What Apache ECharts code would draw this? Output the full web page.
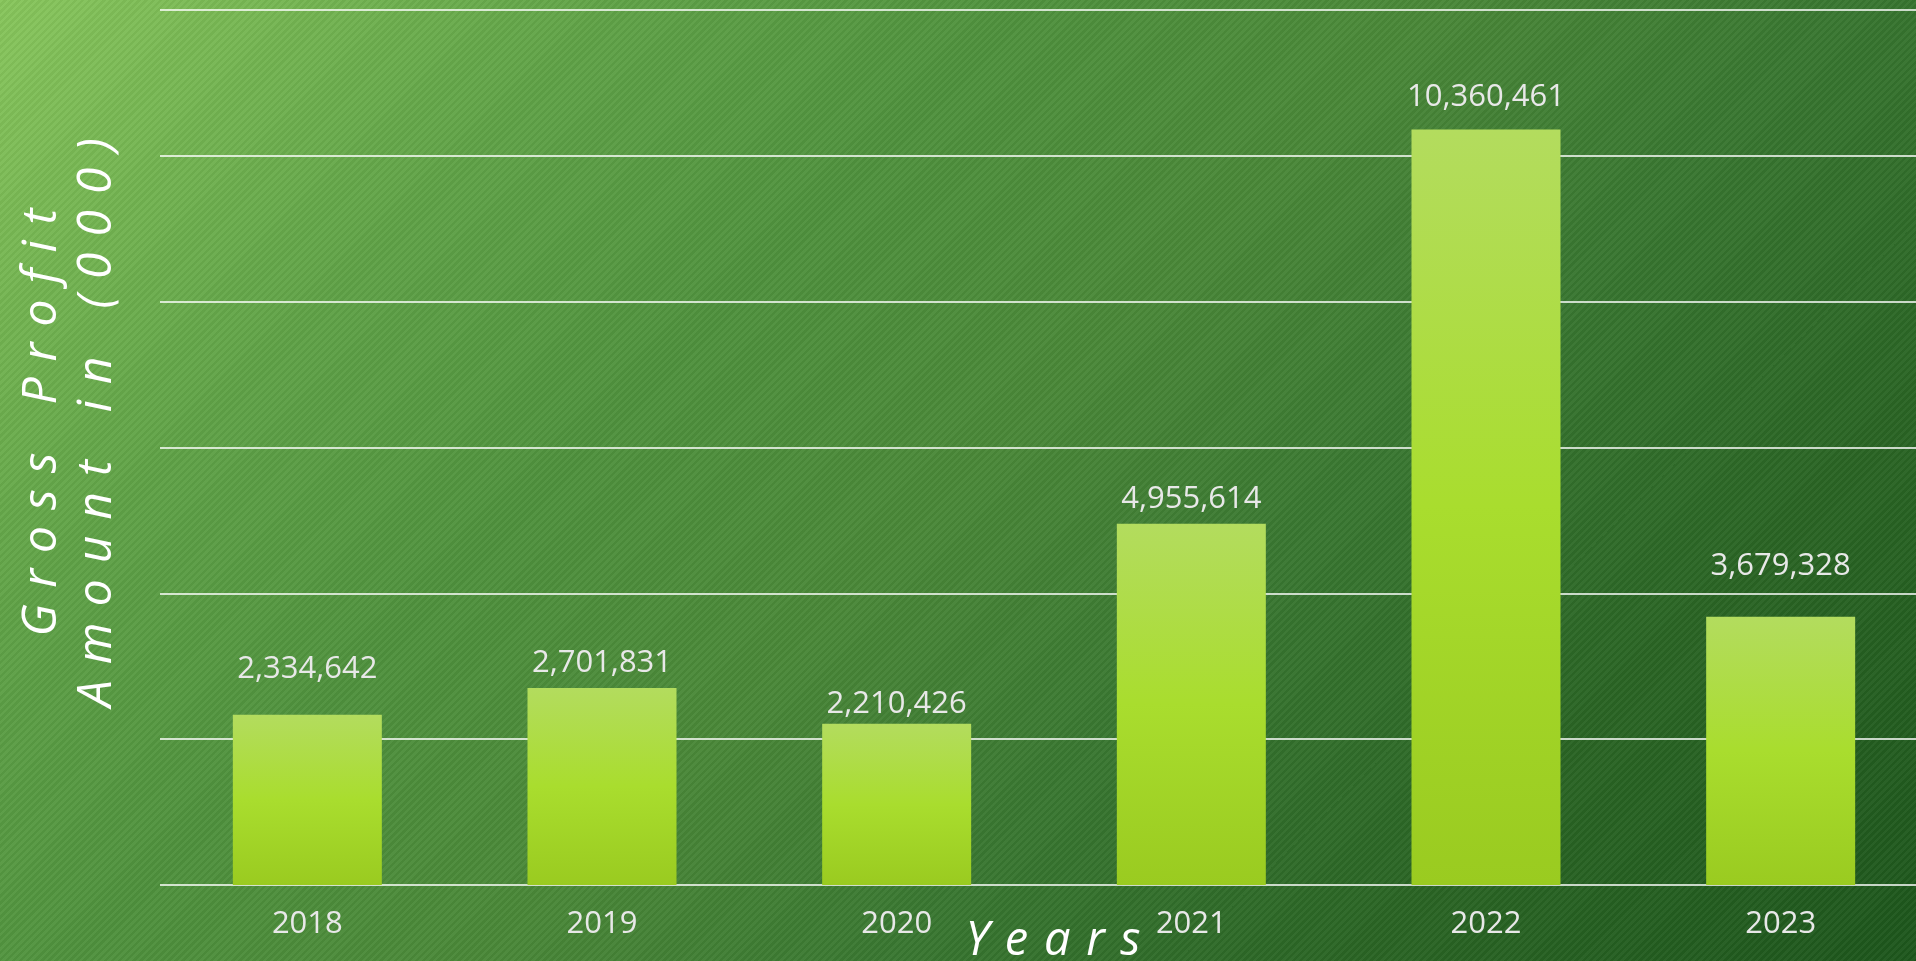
<!DOCTYPE html>
<html>
<head>
<meta charset="utf-8">
<script src="https://cdn.jsdelivr.net/npm/echarts@6/dist/echarts.min.js"></script>
<style>
html, body { margin: 0; padding: 0; width: 1916px; height: 961px; overflow: hidden; }
#chart {
  position: absolute; left: 0; top: 0; width: 1916px; height: 961px;
  background:
    repeating-linear-gradient(135deg, rgba(255,255,255,0.035) 0px, rgba(255,255,255,0.035) 2.5px, rgba(0,0,0,0.035) 2.5px, rgba(0,0,0,0.035) 5px),
    linear-gradient(135deg, #88c65c 0%, #5fa247 22%, #4f913d 36%, #4a8838 50%, #397731 64%, #2a6524 80%, #1d561c 100%);
}
</style>
</head>
<body>
<div id="chart"></div>
<script>
const categories = ['2018', '2019', '2020', '2021', '2022', '2023'];
const grossProfit = [2334642, 2701831, 2210426, 4955614, 10360461, 3679328];
const labelGaps = [30, 9, 4, 9, 17, 35];

// spaced-out titles (letter spacing emulated with three-per-em spaces)
const SP = '\u2004';
const spaced = s => s.split(' ').map(w => w.split('').join(SP)).join(SP + SP + SP);
const xTitle = 'Years';
const yTitle1 = 'Gross Profit';
const yTitle2 = 'Amount in (000)';

const chart = echarts.init(document.getElementById('chart'), null, { renderer: 'canvas' });
const option = {
  backgroundColor: 'transparent',
  animation: false,
  textStyle: { fontFamily: 'Open Sans' },
  grid: { left: 160, top: 10, width: 1768, bottom: 76, outerBoundsMode: 'none', containLabel: false },
  xAxis: {
    type: 'category',
    data: categories,
    axisLine: { show: false },
    axisTick: { show: false },
    axisLabel: { color: '#e8e8e8', fontSize: 31, margin: 24, fontFamily: 'Open Sans' },
    name: spaced(xTitle),
    nameLocation: 'middle',
    nameGap: 33,
    nameMoveOverlap: false,
    nameTextStyle: { color: '#ffffff', fontSize: 47, fontStyle: 'italic', fontFamily: 'Open Sans', padding: [0, 0, 0, 18] }
  },
  yAxis: {
    type: 'value',
    min: 0,
    max: 12000000,
    interval: 2000000,
    axisLabel: { show: false },
    axisLine: { show: false },
    axisTick: { show: false },
    splitLine: { show: true, lineStyle: { color: '#ffffff', width: 1.5 } },
    name: spaced(yTitle1) + '\n' + spaced(yTitle2),
    nameLocation: 'middle',
    nameRotate: 90,
    nameGap: 35,
    nameMoveOverlap: false,
    nameTextStyle: { color: '#ffffff', fontSize: 48, fontStyle: 'italic', lineHeight: 55, fontFamily: 'Open Sans', padding: [0, 0, 0, 50] }
  },
  series: [{
    type: 'bar',
    data: grossProfit.map((v, i) => ({ value: v, label: { distance: labelGaps[i] } })),
    barWidth: 149,
    itemStyle: {
      color: new echarts.graphic.LinearGradient(0, 0, 0, 1, [
        { offset: 0, color: '#b3dc5e' },
        { offset: 0.5, color: '#a9dd2e' },
        { offset: 1, color: '#9acb20' }
      ])
    },
    label: {
      show: true,
      position: 'top',
      color: '#e8e8e8',
      fontSize: 31,
      fontFamily: 'Open Sans',
      formatter: p => p.value.toLocaleString('en-US')
    }
  }]
};
chart.setOption(option);
</script>
</body>
</html>
